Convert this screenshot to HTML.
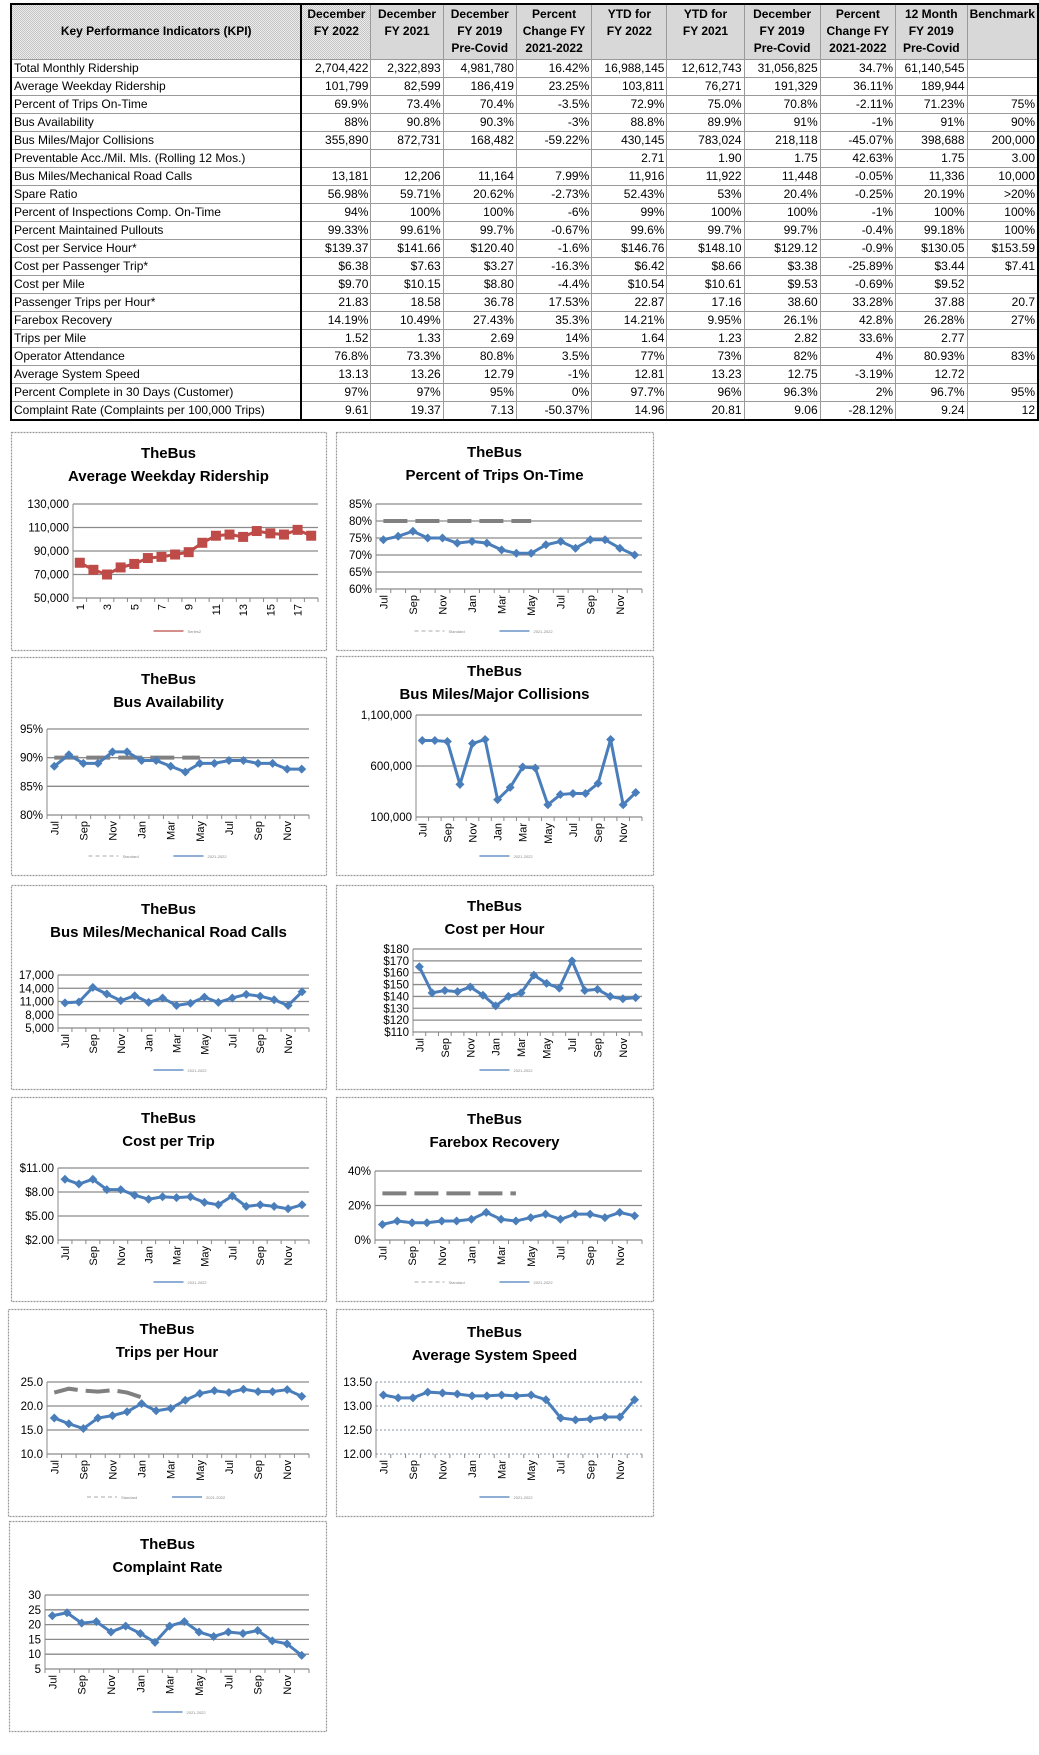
<!DOCTYPE html>
<html><head><meta charset="utf-8">
<style>
body{margin:0;width:1039px;height:1755px;background:#fff;position:relative;overflow:hidden;font-family:"Liberation Sans",sans-serif}
table{position:absolute;left:10px;top:3px;border-collapse:collapse;table-layout:fixed;font-size:12px;color:#000}
td,th{border:1px solid #9a9a9a;padding:0 2px;height:17px;line-height:17px;white-space:nowrap;overflow:hidden;text-align:right}
th{height:18px;line-height:17px;font-weight:bold;text-align:center;font-size:12px;background:repeating-conic-gradient(#c4c4c4 0 25%,#ececec 0 50%) 0 0/2px 2px}
td.k{text-align:left;border-right:2px solid #000}
th.k{border-right:2px solid #000}
table{border:2px solid #000}
#charts{position:absolute;left:0;top:0}
</style></head><body>
<table>
<colgroup><col style="width:293px"><col style="width:70px"><col style="width:73px"><col style="width:74px"><col style="width:76px"><col style="width:76px"><col style="width:78px"><col style="width:77px"><col style="width:76px"><col style="width:72px"><col style="width:59px"></colgroup>
<tr style="height:55px"><th class="k">Key Performance Indicators (KPI)</th><th>December<br>FY 2022<br>&nbsp;</th><th>December<br>FY 2021<br>&nbsp;</th><th>December<br>FY 2019<br>Pre-Covid</th><th>Percent<br>Change FY<br>2021-2022</th><th>YTD for<br>FY 2022<br>&nbsp;</th><th>YTD for<br>FY 2021<br>&nbsp;</th><th>December<br>FY 2019<br>Pre-Covid</th><th>Percent<br>Change FY<br>2021-2022</th><th>12 Month<br>FY 2019<br>Pre-Covid</th><th>Benchmark<br>&nbsp;<br>&nbsp;</th></tr>
<tbody id="tb"></tbody>
</table>
<svg id="charts" width="1039" height="1755"></svg>
<script>
const rows=[
["Total Monthly Ridership","2,704,422","2,322,893","4,981,780","16.42%","16,988,145","12,612,743","31,056,825","34.7%","61,140,545",""],
["Average Weekday Ridership","101,799","82,599","186,419","23.25%","103,811","76,271","191,329","36.11%","189,944",""],
["Percent of Trips On-Time","69.9%","73.4%","70.4%","-3.5%","72.9%","75.0%","70.8%","-2.11%","71.23%","75%"],
["Bus Availability","88%","90.8%","90.3%","-3%","88.8%","89.9%","91%","-1%","91%","90%"],
["Bus Miles/Major Collisions","355,890","872,731","168,482","-59.22%","430,145","783,024","218,118","-45.07%","398,688","200,000"],
["Preventable Acc./Mil. Mls. (Rolling 12 Mos.)","","","","","2.71","1.90","1.75","42.63%","1.75","3.00"],
["Bus Miles/Mechanical Road Calls","13,181","12,206","11,164","7.99%","11,916","11,922","11,448","-0.05%","11,336","10,000"],
["Spare Ratio","56.98%","59.71%","20.62%","-2.73%","52.43%","53%","20.4%","-0.25%","20.19%",">20%"],
["Percent of Inspections Comp. On-Time","94%","100%","100%","-6%","99%","100%","100%","-1%","100%","100%"],
["Percent Maintained Pullouts","99.33%","99.61%","99.7%","-0.67%","99.6%","99.7%","99.7%","-0.4%","99.18%","100%"],
["Cost per Service Hour*","$139.37","$141.66","$120.40","-1.6%","$146.76","$148.10","$129.12","-0.9%","$130.05","$153.59"],
["Cost per Passenger Trip*","$6.38","$7.63","$3.27","-16.3%","$6.42","$8.66","$3.38","-25.89%","$3.44","$7.41"],
["Cost per Mile","$9.70","$10.15","$8.80","-4.4%","$10.54","$10.61","$9.53","-0.69%","$9.52",""],
["Passenger Trips per Hour*","21.83","18.58","36.78","17.53%","22.87","17.16","38.60","33.28%","37.88","20.7"],
["Farebox Recovery","14.19%","10.49%","27.43%","35.3%","14.21%","9.95%","26.1%","42.8%","26.28%","27%"],
["Trips per Mile","1.52","1.33","2.69","14%","1.64","1.23","2.82","33.6%","2.77",""],
["Operator Attendance","76.8%","73.3%","80.8%","3.5%","77%","73%","82%","4%","80.93%","83%"],
["Average System Speed","13.13","13.26","12.79","-1%","12.81","13.23","12.75","-3.19%","12.72",""],
["Percent Complete in 30 Days (Customer)","97%","97%","95%","0%","97.7%","96%","96.3%","2%","96.7%","95%"],
["Complaint Rate (Complaints per 100,000 Trips)","9.61","19.37","7.13","-50.37%","14.96","20.81","9.06","-28.12%","9.24","12"]];
const tb=document.getElementById('tb');
rows.forEach(r=>{const tr=document.createElement('tr');


r.forEach((c,i)=>{const td=document.createElement('td');if(i==0)td.className='k';td.textContent=c;tr.appendChild(td);});tb.appendChild(tr);});

// ---- chart data ----
const monthLabels=['Jul','Aug','Sep','Oct','Nov','Dec','Jan','Feb','Mar','Apr','May','Jun','Jul','Aug','Sep','Oct','Nov','Dec'];
const indexLabels=['1','2','3','4','5','6','7','8','9','10','11','12','13','14','15','16','17','18'];
const awrValues=[80000,74000,70000,76000,79000,84000,85000,87000,89000,97000,103000,104000,102000,107000,105000,104000,108000,103000];
const awrTicks=[50000,70000,90000,110000,130000];
const otpValues=[74.5,75.5,77,75,75,73.5,74,73.5,71.5,70.5,70.5,73,74,72,74.5,74.5,72,70];
const otpStandard=[80,80,80,80,80,80,80,80,80,80,80];
const otpTicks=[60,65,70,75,80,85];
const availValues=[88.5,90.5,89,89,91,91,89.5,89.5,88.5,87.5,89,89,89.5,89.5,89,89,88,88];
const availStandard=[90,90,90,90,90,90,90,90,90,90,90];
const availTicks=[80,85,90,95];
const collValues=[850000,850000,840000,420000,820000,860000,270000,390000,590000,580000,220000,320000,330000,330000,430000,860000,220000,340000];
const collTicks=[100000,600000,1100000];
const mrcValues=[10700,10900,14200,12700,11200,12300,10800,11800,10100,10600,12000,10800,11800,12600,12200,11400,10100,13200];
const mrcTicks=[5000,8000,11000,14000,17000];
const cphValues=[165,143,145,144,148,141,132,140,143,158,151,147,170,145,146,140,138,139];
const cphTicks=[110,120,130,140,150,160,170,180];
const cptValues=[9.6,9.0,9.6,8.3,8.3,7.6,7.1,7.4,7.3,7.4,6.7,6.4,7.5,6.2,6.4,6.2,5.9,6.4];
const cptTicks=[2,5,8,11];
const fareValues=[9,11,10,10,11,11,12,16,12,11,13,15,12,15,15,13,16,14];
const fareStandard=[27,27,27,27,27,27,27,27,27,27];
const fareTicks=[0,20,40];
const tphValues=[17.5,16.3,15.3,17.5,18,18.8,20.5,19,19.5,21.2,22.6,23.2,22.8,23.5,23,23,23.4,22];
const tphStandard=[22.8,23.6,23.2,23,23.3,22.8,21.8];
const tphTicks=[10,15,20,25];
const speedValues=[13.23,13.17,13.17,13.29,13.27,13.25,13.21,13.21,13.23,13.21,13.23,13.13,12.75,12.71,12.73,12.77,12.77,13.13];
const speedTicks=[12,12.5,13,13.5];
const compValues=[23,24,20.5,21,17.5,19.5,17,14,19.5,21,17.5,16,17.5,17,18,14.5,13.5,9.6];
const compTicks=[5,10,15,20,25,30];

const NS='http://www.w3.org/2000/svg';
const svg=document.getElementById('charts');
function mk(tag,attrs,parent,text){const e=document.createElementNS(NS,tag);for(const k in attrs)e.setAttribute(k,attrs[k]);if(text!==undefined)e.textContent=text;(parent||svg).appendChild(e);return e;}

function chart(c){
  const g=mk('g',{});
  
  
  mk('rect',{x:c.bx+.5,y:c.by+.5,width:c.bw,height:c.bh,fill:'#fff',stroke:'#999','stroke-width':1.2,'stroke-dasharray':'2,1'},g);
  const cx=c.bx+c.bw/2;
  const t1=mk('text',{x:cx,y:c.t1,'text-anchor':'middle','font-size':15,'font-weight':'bold'},g,'TheBus');
  
  
  mk('text',{x:cx,y:c.t1+23,'text-anchor':'middle','font-size':15,'font-weight':'bold'},g,c.title);
  const min=c.ticks[0],max=c.ticks[c.ticks.length-1];
  const ys=v=>c.pb-(v-min)/(max-min)*(c.pb-c.pt);
  const n=c.cats.length,cw=(c.pr-c.pl)/n;
  const xs=i=>c.pl+cw*(i+.5);
  c.ticks.forEach(t=>{
    mk('line',{x1:c.pl,x2:c.pr,y1:ys(t),y2:ys(t),stroke:c.gridColor||'#8a8a8a','stroke-width':1.3,'stroke-dasharray':c.gridDash||'none'},g);
    const lb=mk('text',{x:c.pl-4,y:ys(t)+4,'text-anchor':'end','font-size':11.5},g,c.fmt(t));
    
    
  });
  mk('line',{x1:c.pl,x2:c.pl,y1:c.pt,y2:c.pb,stroke:'#888'},g);
  for(let i=0;i<=n;i++)mk('line',{x1:c.pl+cw*i,x2:c.pl+cw*i,y1:c.pb,y2:c.pb+4,stroke:'#888'},g);
  c.cats.forEach((m,i)=>{if(i%2)return;
    const x=xs(i),y=c.pb+6;
    const lb=mk('text',{x:x+4,y:y,'text-anchor':'end','font-size':11,transform:`rotate(-90 ${x+4} ${y})`},g,m);
    
    
  });
  if(c.standard){
    const p=mk('polyline',{points:c.standard.map((v,i)=>xs(i)+','+ys(v)).join(' '),fill:'none',stroke:'#808080','stroke-width':4,'stroke-dasharray':'24,8'},g);
    
    
  }
  const col=c.color||'#4a7ebb';
  const line=mk('polyline',{points:c.values.map((v,i)=>xs(i)+','+ys(v)).join(' '),fill:'none',stroke:col,'stroke-width':3},g);
  
  
  c.values.forEach((v,i)=>{const x=xs(i),y=ys(v);let m;
    if(c.square)m=mk('rect',{x:x-5,y:y-5,width:10,height:10,fill:col},g);
    else m=mk('polygon',{points:`${x},${y-4.5} ${x+4.5},${y} ${x},${y+4.5} ${x-4.5},${y}`,fill:col},g);
    
    
  });
  const ly=c.by+c.bh-19;
  const lg=mk('g',{},g);
  
  
  const lx=cx-(c.standard?50:15);
  if(c.standard){mk('line',{x1:lx-30,x2:lx,y1:ly,y2:ly,stroke:'#aaa','stroke-dasharray':'4,3'},lg);mk('text',{x:lx+4,y:ly+2,'font-size':4,fill:'#888'},lg,'Standard');}
  const lx2=c.standard?cx+5:lx;
  mk('line',{x1:lx2,x2:lx2+30,y1:ly,y2:ly,stroke:col,'stroke-width':1.2},lg);
  mk('text',{x:lx2+34,y:ly+2,'font-size':4,fill:'#888'},lg,c.legend||'2021-2022');
}
const fN=v=>v.toLocaleString('en-US');
const fP=v=>v+'%';
const L={bx:11,bw:315},R={bx:336,bw:317};
chart({name:'chart-avg-weekday-ridership',...L,by:432,bh:218,t1:458,title:'Average Weekday Ridership',pl:73,pr:318,pt:504,pb:598,ticks:awrTicks,fmt:fN,cats:indexLabels,values:awrValues,color:'#be4b48',square:true,legend:'Series2'});
chart({name:'chart-on-time',...R,by:432,bh:218,t1:457,title:'Percent of Trips On-Time',pl:376,pr:642,pt:504,pb:589,ticks:otpTicks,fmt:fP,cats:monthLabels,values:otpValues,standard:otpStandard});
chart({name:'chart-bus-availability',...L,by:657,bh:218,t1:684,title:'Bus Availability',pl:47,pr:309,pt:729,pb:815,ticks:availTicks,fmt:fP,cats:monthLabels,values:availValues,standard:availStandard});
chart({name:'chart-major-collisions',...R,by:656,bh:219,t1:676,title:'Bus Miles/Major Collisions',pl:416,pr:642,pt:715,pb:817,ticks:collTicks,fmt:fN,cats:monthLabels,values:collValues});
chart({name:'chart-road-calls',...L,by:885,bh:204,t1:914,title:'Bus Miles/Mechanical  Road Calls',pl:58,pr:309,pt:975,pb:1028,ticks:mrcTicks,fmt:fN,cats:monthLabels,values:mrcValues});
chart({name:'chart-cost-per-hour',...R,by:885,bh:204,t1:911,title:'Cost per Hour',pl:413,pr:642,pt:949,pb:1032,ticks:cphTicks,fmt:v=>'$'+v,cats:monthLabels,values:cphValues});
chart({name:'chart-cost-per-trip',...L,by:1097,bh:204,t1:1123,title:'Cost per Trip',pl:58,pr:309,pt:1168,pb:1240,ticks:cptTicks,fmt:v=>'$'+v.toFixed(2),cats:monthLabels,values:cptValues});
chart({name:'chart-farebox-recovery',...R,by:1097,bh:204,t1:1124,title:'Farebox Recovery',pl:375,pr:642,pt:1171,pb:1240,ticks:fareTicks,fmt:fP,cats:monthLabels,values:fareValues,standard:fareStandard});
chart({name:'chart-trips-per-hour',bx:8,bw:318,by:1309,bh:207,t1:1334,title:'Trips per Hour',pl:47,pr:309,pt:1382,pb:1454,ticks:tphTicks,fmt:v=>v.toFixed(1),cats:monthLabels,values:tphValues,standard:tphStandard});
chart({name:'chart-system-speed',...R,by:1309,bh:207,t1:1337,title:'Average System Speed',pl:376,pr:642,pt:1382,pb:1454,ticks:speedTicks,fmt:v=>v.toFixed(2),cats:monthLabels,values:speedValues,gridColor:'#9ab',gridDash:'2,2'});
chart({name:'chart-complaint-rate',bx:9,bw:317,by:1521,bh:210,t1:1549,title:'Complaint Rate',pl:45,pr:309,pt:1595,pb:1669,ticks:compTicks,fmt:v=>String(v),cats:monthLabels,values:compValues});
</script>
</body></html>
